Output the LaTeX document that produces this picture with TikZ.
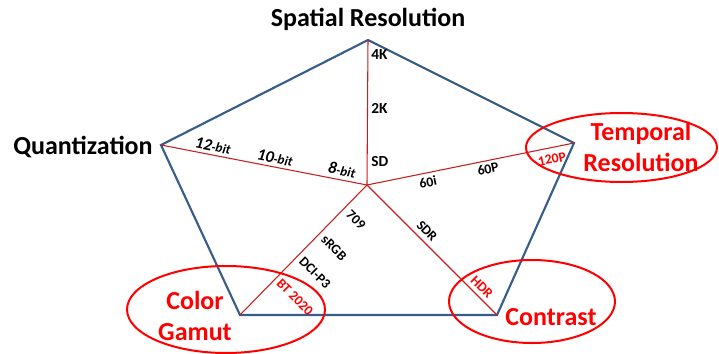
\documentclass[tikz,border=0pt]{standalone}
\usepackage{fontspec}
\setmainfont{Carlito}
\usetikzlibrary{shapes.geometric}
\definecolor{pblue}{HTML}{385D8A}
\definecolor{axred}{HTML}{C81E1E}
\definecolor{hired}{HTML}{FF0000}
\begin{document}
\begin{tikzpicture}[x=0.75pt,y=-0.75pt,
  big/.style={font=\fontsize{19.5}{23}\selectfont\bfseries, inner sep=0pt},
  bigred/.style={big, text=hired, align=center},
  spat/.style={font=\fontsize{11.5}{13}\selectfont\bfseries, inner sep=0pt},
  bitlab/.style={font=\fontsize{12.5}{14}\selectfont\bfseries\itshape, inner sep=0pt},
  axlab/.style={font=\fontsize{10.3}{12}\selectfont\bfseries, inner sep=0pt},
  axlabred/.style={axlab, text=hired},
  ring/.style={draw=hired, line width=1.5pt, ellipse, inner sep=0pt},
  frame/.style={draw=pblue, line width=1.6pt, line join=miter},
  axis/.style={draw=axred, line width=0.8pt}]
\useasboundingbox (0,0) rectangle (719,354);
% vertices
\coordinate (C) at (367,185);
\coordinate (T) at (368,40);
\coordinate (L) at (161,145);
\coordinate (R) at (574,143);
\coordinate (BL) at (240,315);
\coordinate (BR) at (497,315);
\draw[frame] (T) -- (R) -- (BR) -- (BL) -- (L) -- cycle;
\foreach \v in {T,L,R,BL,BR} \draw[axis] (C) -- (\v);
% rings
\node[ring, minimum width=143.25pt, minimum height=51.75pt] (tempring) at (621.5,147.5) {};
\node[ring, minimum width=148.5pt, minimum height=65.25pt] (gamutring) at (226,309.5) {};
\node[ring, minimum width=124.5pt, minimum height=62.25pt] (contring) at (532,301.5) {};
% big labels
\node[big] (spatial) at (368,19) {Spatial Resolution};
\node[big] (quant) at (83,147) {Quantization};
\node[bigred] (temporal) at (641,147) {Temporal\\Resolution};
\node[bigred] (gamut) at (195,316) {Color\\Gamut};
\node[bigred] (contrast) at (551,317) {Contrast};
% spatial axis
\node[spat, anchor=west] (k4) at (371,55) {4K};
\node[spat, anchor=west] (k2) at (371,108) {2K};
\node[spat, anchor=west] (sd) at (371,162) {SD};
% quantization axis
\node[bitlab, rotate=-11] (b12) at (213,146) {12{\fontsize{10}{12}\selectfont -bit}};
\node[bitlab, rotate=-11] (b10) at (275,158) {10{\fontsize{10}{12}\selectfont -bit}};
\node[bitlab, rotate=-11] (b8) at (342,170) {8{\fontsize{10}{12}\selectfont -bit}};
% temporal axis
\node[axlab, rotate=11.5] (r60i) at (428,182) {60i};
\node[axlab, rotate=11.5] (r60p) at (488,169) {60P};
\node[axlabred, rotate=11.5] (r120p) at (552,159) {120P};
% gamut axis
\node[axlab, rotate=-45] (g709) at (356,220) {709};
\node[axlab, rotate=-45] (gsrgb) at (334,248) {sRGB};
\node[axlab, rotate=-45] (gdci) at (315,273) {DCI-P3};
\node[axlabred, rotate=-45] (gbt) at (295,297) {BT 2020};
% contrast axis
\node[axlab, rotate=-45] (csdr) at (427,231) {SDR};
\node[axlabred, rotate=-45] (chdr) at (482,287) {HDR};
\end{tikzpicture}
\end{document}
